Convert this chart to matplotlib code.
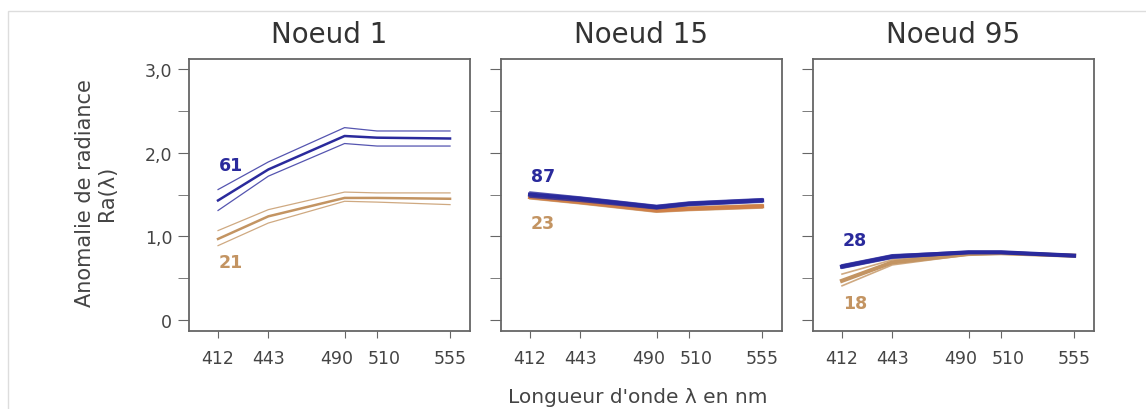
import matplotlib
matplotlib.use("Agg")
import matplotlib.pyplot as plt
from matplotlib.patches import Rectangle
from matplotlib.ticker import FixedLocator, MultipleLocator
from matplotlib.transforms import ScaledTranslation

wavelengths = [412, 443, 490, 510, 555]
titles = ["Noeud 1", "Noeud 15", "Noeud 95"]
ytick_vals = [0, 1.0, 2.0, 3.0]
ytick_labels = ["0", "1,0", "2,0", "3,0"]

# Noeud 1
n1_blue_hi = [1.56, 1.89, 2.30, 2.26, 2.26]
n1_blue_mid = [1.43, 1.80, 2.20, 2.18, 2.17]
n1_blue_lo = [1.31, 1.72, 2.11, 2.08, 2.08]
n1_brown_hi = [1.07, 1.32, 1.53, 1.52, 1.52]
n1_brown_mid = [0.97, 1.24, 1.46, 1.46, 1.45]
n1_brown_lo = [0.89, 1.16, 1.42, 1.41, 1.38]
n1_labels = ["61", "21"]
n1_label_y = [1.85, 0.69]

# Noeud 15
n15_blue_hi = [1.53, 1.47, 1.37, 1.41, 1.45]
n15_blue_mid = [1.50, 1.45, 1.35, 1.39, 1.43]
n15_blue_lo = [1.47, 1.42, 1.33, 1.37, 1.41]
n15_brown_hi = [1.49, 1.43, 1.33, 1.35, 1.38]
n15_brown_mid = [1.47, 1.41, 1.31, 1.33, 1.36]
n15_brown_lo = [1.45, 1.39, 1.29, 1.31, 1.34]
n15_labels = ["87", "23"]
n15_label_y = [1.72, 1.16]

# Noeud 95
n95_blue_hi = [0.66, 0.78, 0.82, 0.82, 0.78]
n95_blue_mid = [0.64, 0.76, 0.81, 0.81, 0.77]
n95_blue_lo = [0.62, 0.74, 0.80, 0.80, 0.76]
n95_brown_hi = [0.55, 0.72, 0.80, 0.81, 0.78]
n95_brown_mid = [0.47, 0.69, 0.79, 0.80, 0.77]
n95_brown_lo = [0.41, 0.66, 0.78, 0.79, 0.76]
n95_labels = ["28", "18"]
n95_label_y = [0.96, 0.20]

panels = [
    (n1_blue_hi, n1_blue_mid, n1_blue_lo, n1_brown_hi, n1_brown_mid, n1_brown_lo, n1_labels, n1_label_y),
    (n15_blue_hi, n15_blue_mid, n15_blue_lo, n15_brown_hi, n15_brown_mid, n15_brown_lo, n15_labels, n15_label_y),
    (n95_blue_hi, n95_blue_mid, n95_blue_lo, n95_brown_hi, n95_brown_mid, n95_brown_lo, n95_labels, n95_label_y),
]

BLUE = "#2a2a9c"
BROWN = "#c39462"
GRAY = "#444444"
plt.rcParams['font.family'] = ['DejaVu Sans']

W, H = 1146, 410
fig = plt.figure(figsize=(W / 100, H / 100), dpi=100)
fig.add_artist(Rectangle((8 / W, -0.2), 1.5, (H - 12) / H + 0.2, transform=fig.transFigure,
                         fill=False, edgecolor="#dddddd", linewidth=1.0))

label_shift_px = {490: -8, 510: 7}

lefts = [189, 501, 813]
aw = 281
top, bottom = 60, 332
for i, (left, p) in enumerate(zip(lefts, panels)):
    bh, bm, bl, oh, om, ol, labs, laby = p
    ax = fig.add_axes([left / W, (H - bottom) / H, aw / W, (bottom - top) / H])
    thick = 1.8 if i == 0 else 3.0
    thin = 0.9 if i == 0 else 1.2
    ax.plot(wavelengths, oh, color=BROWN, lw=thin, alpha=0.8)
    ax.plot(wavelengths, ol, color=BROWN, lw=thin, alpha=0.8)
    ax.plot(wavelengths, om, color=BROWN if i != 1 else "#cf8048", lw=thick)
    ax.plot(wavelengths, bh, color=BLUE, lw=thin, alpha=0.8)
    ax.plot(wavelengths, bl, color=BLUE, lw=thin, alpha=0.8)
    ax.plot(wavelengths, bm, color=BLUE, lw=thick)
    ax.text(412.5, laby[0], labs[0], color=BLUE, fontsize=12.5, fontweight="bold", ha="left", va="center")
    ax.text(412.5, laby[1], labs[1], color=BROWN, fontsize=12.5, fontweight="bold", ha="left", va="center")
    ax.set_xlim(394.1, 567.3)
    ax.set_ylim(-0.13, 3.12)
    ax.set_xticks(wavelengths)
    ax.set_xticklabels([str(w) for w in wavelengths])
    ax.yaxis.set_major_locator(FixedLocator(ytick_vals))
    ax.yaxis.set_minor_locator(MultipleLocator(0.5))
    if i == 0:
        ax.set_yticklabels(ytick_labels)
    else:
        ax.set_yticklabels([])
    ax.tick_params(axis="both", which="both", direction="out", color="#666666",
                   labelcolor=GRAY, labelsize=12.5)
    ax.tick_params(axis="y", which="both", length=8, pad=4)
    ax.tick_params(axis="x", length=5, pad=8)
    for w, lab in zip(wavelengths, ax.get_xticklabels()):
        if w in label_shift_px:
            lab.set_transform(lab.get_transform() +
                              ScaledTranslation(label_shift_px[w] / 100, 0, fig.dpi_scale_trans))
    for s in ax.spines.values():
        s.set_color("#666666")
        s.set_linewidth(1.3)
    ax.set_title(titles[i], fontsize=20, color="#333333", pad=12)

fig.text(96 / W, 1 - 193 / H, "Anomalie de radiance\nRa(λ)", rotation=90, ha="center", va="center",
         fontsize=15, color=GRAY, linespacing=1.15, multialignment="center")
fig.text(638 / W, 1 - 398 / H, "Longueur d'onde λ en nm", ha="center", va="center",
         fontsize=14.5, color=GRAY)

fig.savefig("out.png", dpi=100)
